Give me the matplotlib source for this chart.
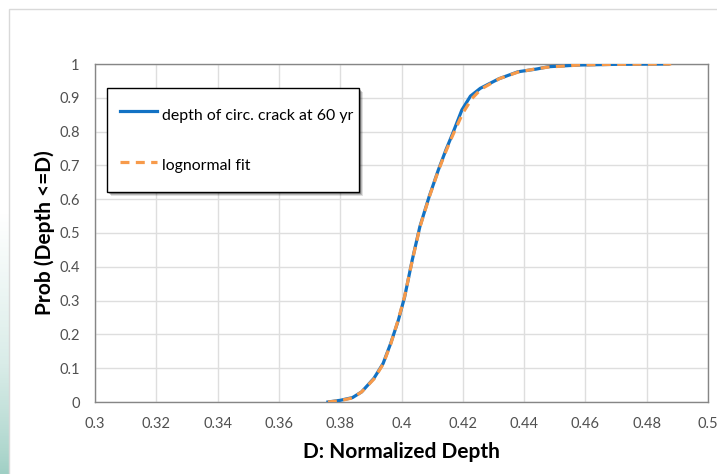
import numpy as np
import matplotlib
matplotlib.use("Agg")
import matplotlib.pyplot as plt
from matplotlib.patches import Rectangle

plt.rcParams['font.family'] = ['Lato', 'DejaVu Sans']

# simulated crack depth CDF
depth_sim = [0.376, 0.380, 0.384, 0.387, 0.391, 0.394, 0.3965, 0.399, 0.401,
             0.4035, 0.406, 0.409, 0.412, 0.4145, 0.4165, 0.4197, 0.4225,
             0.4257, 0.4317, 0.438, 0.444, 0.448, 0.458, 0.470, 0.487]
prob_sim = [0.0, 0.005, 0.013, 0.030, 0.070, 0.114, 0.174, 0.243, 0.310,
            0.420, 0.519, 0.607, 0.686, 0.746, 0.790, 0.864, 0.905,
            0.928, 0.956, 0.977, 0.985, 0.992, 0.997, 0.999, 1.0]

# lognormal fit
depth_fit = [0.376, 0.380, 0.384, 0.387, 0.391, 0.394, 0.3965, 0.399, 0.401,
             0.4035, 0.406, 0.409, 0.412, 0.4145, 0.4165, 0.420, 0.423,
             0.426, 0.432, 0.438, 0.444, 0.448, 0.458, 0.470, 0.488]
prob_fit = [0.0, 0.004, 0.012, 0.030, 0.068, 0.112, 0.172, 0.245, 0.312,
            0.418, 0.517, 0.605, 0.684, 0.742, 0.785, 0.855, 0.898,
            0.926, 0.957, 0.976, 0.986, 0.991, 0.997, 0.999, 1.0]

x_ticks = [0.3, 0.32, 0.34, 0.36, 0.38, 0.4, 0.42, 0.44, 0.46, 0.48, 0.5]
x_tick_labels = ["0.3", "0.32", "0.34", "0.36", "0.38", "0.4", "0.42",
                 "0.44", "0.46", "0.48", "0.5"]
y_ticks = [0, 0.1, 0.2, 0.3, 0.4, 0.5, 0.6, 0.7, 0.8, 0.9, 1.0]
y_tick_labels = ["0", "0.1", "0.2", "0.3", "0.4", "0.5", "0.6", "0.7",
                 "0.8", "0.9", "1"]

W, H = 717, 474
fig = plt.figure(figsize=(W / 100, H / 100), dpi=100)

# green gradient strip on the left edge
strip = fig.add_axes([0, 0, 9 / W, 1])
grad = np.linspace(0, 1, 256).reshape(-1, 1)
grad = np.clip(grad / 0.55, 0, 1) ** 0.8
cmap = matplotlib.colors.LinearSegmentedColormap.from_list(
    "strip", ["#9fcfc4", "#d9ece8", "#ffffff"])
strip.imshow(grad, aspect="auto", cmap=cmap, origin="lower",
             extent=[0, 1, 0, 1])
strip.axis("off")

# light frame of the chart area
frame = plt.Rectangle((9 / W, -0.1), 1.2, 1 - 9 / H + 0.1,
                      transform=fig.transFigure, fill=False,
                      edgecolor="#d9d9d9", lw=1)
fig.patches.append(frame)

ax = fig.add_axes([95 / W, 1 - 402 / H, 613 / W, 338 / H])
ax.plot(depth_sim, prob_sim, color="#1272c4", lw=2.3,
        label="depth of circ. crack at 60 yr", zorder=3)
ax.plot(depth_fit, prob_fit, color="#f79a4a", lw=2.3, ls=(0, (2.8, 2.0)),
        label="lognormal fit", zorder=4)

ax.set_xlim(0.3, 0.5)
ax.set_ylim(0, 1)
ax.set_xticks(x_ticks)
ax.set_xticklabels(x_tick_labels)
ax.set_yticks(y_ticks)
ax.set_yticklabels(y_tick_labels)
ax.tick_params(length=0, labelsize=10.5, colors="#505050")
ax.tick_params(axis="x", pad=11)
ax.tick_params(axis="y", pad=11)
ax.grid(color="#dedede", lw=1)
ax.set_axisbelow(True)
for s in ax.spines.values():
    s.set_color("#868686")
    s.set_linewidth(1)

ax.set_xlabel("D: Normalized Depth", fontsize=15, fontweight="bold")
ax.set_ylabel("Prob (Depth <=D)", fontsize=15, fontweight="bold")
ax.xaxis.set_label_coords(0.5, -(442 - 402) / 338)
ax.yaxis.set_label_coords(-(95 - 55) / 613, 0.5)

# legend box drawn by hand (Excel-like fixed size, with shadow)
bx, by = (107 - 95) / 613, (402 - 192) / 338
bw, bh = 252 / 613, 104 / 338
for k, a in [(4, 0.12), (3, 0.18), (2, 0.25)]:
    ax.add_patch(Rectangle((bx + k / 613, by - k / 338), bw, bh,
                           transform=ax.transAxes, facecolor="black",
                           edgecolor="none", alpha=a, zorder=5))
ax.add_patch(Rectangle((bx, by), bw, bh, transform=ax.transAxes,
                       facecolor="white", edgecolor="black", lw=1, zorder=5))

leg = ax.legend(loc="center left",
                bbox_to_anchor=((120 - 95) / 613, (402 - 140) / 338),
                borderaxespad=0, fontsize=11.4, frameon=False,
                handlelength=2.34, handletextpad=0.3, handleheight=2.0,
                labelspacing=1.67, borderpad=0)
leg.set_zorder(6)

plt.savefig("out.png", dpi=100, facecolor="white")
